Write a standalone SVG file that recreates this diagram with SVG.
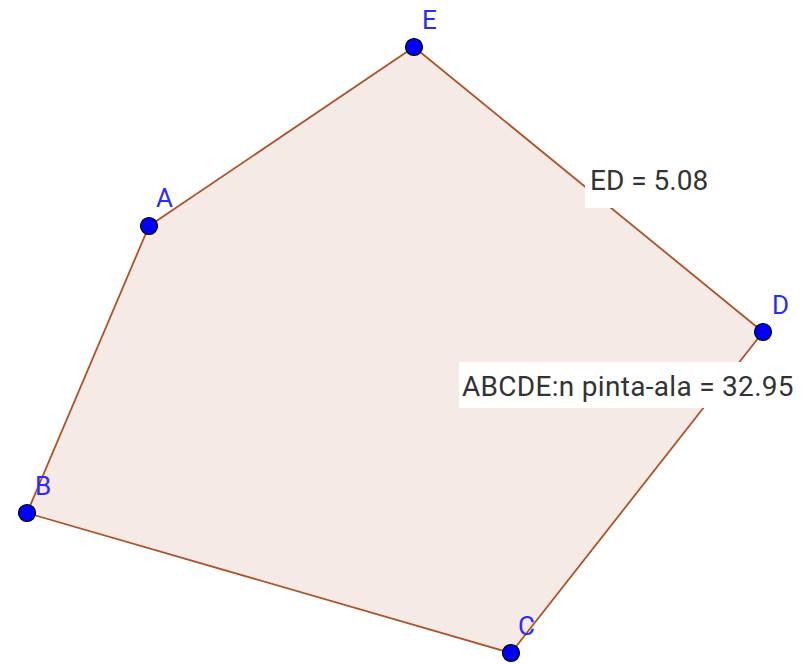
<svg xmlns="http://www.w3.org/2000/svg" width="808" height="664" viewBox="0 0 808 664">
<style>
.edge{stroke:#ad5328;stroke-width:1.8;fill:none;stroke-linecap:round}
.pt{fill:#0000ff;stroke:#000;stroke-width:1.2}
.lbl{font-family:Roboto,"Liberation Sans",sans-serif;font-size:26px;fill:#2a2aff}
.cap{font-family:Roboto,"Liberation Sans",sans-serif;font-size:28px;fill:#333333}
.box{fill:#ffffff}
</style>
<rect width="808" height="664" fill="#ffffff"/>
<polygon id="poly-fill" points="149,226 27,513 511,653 763,332 414,47" fill="#993300" fill-opacity="0.1" stroke="none"/>
<g id="connectors">
<line class="edge" x1="149" y1="226" x2="27" y2="513"/>
<line class="edge" x1="27" y1="513" x2="511" y2="653"/>
<line class="edge" x1="511" y1="653" x2="763" y2="332"/>
<line class="edge" x1="763" y1="332" x2="414" y2="47"/>
<line class="edge" x1="414" y1="47" x2="149" y2="226"/>
</g>
<g id="label-ED">
<rect class="box" x="585" y="161" width="130" height="47"/>
<text class="cap" x="590" y="190">ED = 5.08</text>
</g>
<g id="label-area">
<rect class="box" x="459" y="362" width="349" height="46"/>
<text class="cap" x="462" y="396" style="letter-spacing:0.3px">ABCDE:n pinta-ala = 32.95</text>
</g>
<g id="E"><circle class="pt" cx="414" cy="47" r="8.5"/><text class="lbl" x="422" y="29">E</text></g>
<g id="A"><circle class="pt" cx="149" cy="226" r="8.5"/><text class="lbl" x="156" y="207">A</text></g>
<g id="B"><circle class="pt" cx="27" cy="513" r="8.5"/><text class="lbl" x="35" y="495">B</text></g>
<g id="C"><circle class="pt" cx="511" cy="653" r="8.5"/><text class="lbl" x="518" y="635">C</text></g>
<g id="D"><circle class="pt" cx="763" cy="332" r="8.5"/><text class="lbl" x="772" y="314">D</text></g>
</svg>
